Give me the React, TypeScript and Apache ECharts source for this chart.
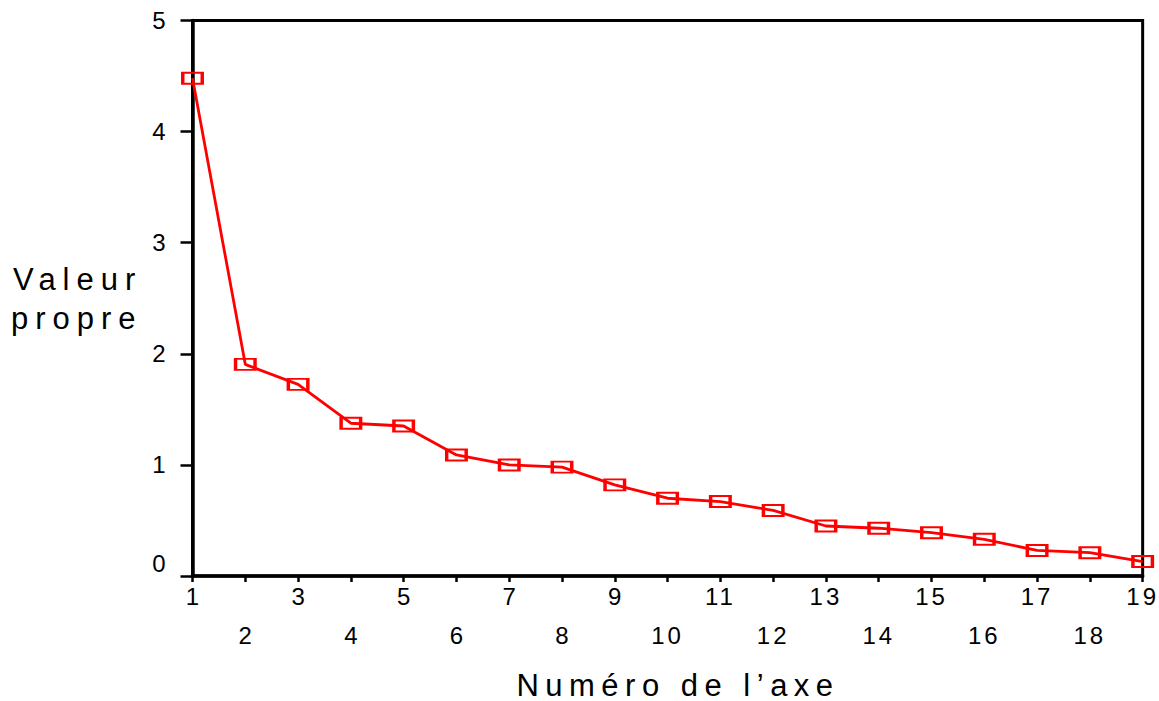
import React, { useEffect, useRef } from "react";
import * as echarts from "echarts";

const axisNumbers = ["1", "2", "3", "4", "5", "6", "7", "8", "9", "10", "11", "12", "13", "14", "15", "16", "17", "18", "19"];
const eigenvalues = [4.48, 1.905, 1.725, 1.375, 1.35, 1.09, 1.0, 0.98, 0.82, 0.7, 0.67, 0.59, 0.45, 0.43, 0.39, 0.33, 0.23, 0.21, 0.13];
const yMin = 0;
const yMax = 5;
const yStep = 1;
const xTitle = "Numéro de l’axe";
const yTitleLines = ["Valeur", "propre"];

const FONT = "'Liberation Sans', Arial, Helvetica, sans-serif";
const TICK_FONT = 24;

export default function App() {
  const ref = useRef<HTMLDivElement>(null);

  useEffect(() => {
    if (!ref.current) return;
    const chart = echarts.init(ref.current, null, { renderer: "svg" });
    const option: any = {
      animation: false,
      backgroundColor: "#ffffff",
      grid: {
        left: 192.5,
        right: 14,
        top: 20.5,
        bottom: 125,
        show: true,
        borderColor: "#000",
        borderWidth: 3,
        backgroundColor: "transparent",
      },
      xAxis: [
        {
          type: "category",
          data: axisNumbers,
          boundaryGap: false,
          position: "bottom",
          axisLine: { show: true, lineStyle: { color: "#000", width: 3.5 } },
          axisTick: { show: true, interval: 0, length: 6, lineStyle: { color: "#000", width: 2.5 } },
          axisLabel: {
            interval: (i: number) => i % 2 === 0,
            margin: 8,
            fontSize: TICK_FONT,
            fontFamily: FONT,
            color: "#000",
          },
          splitLine: { show: false },
        },
        {
          type: "category",
          data: axisNumbers,
          boundaryGap: false,
          position: "bottom",
          axisLine: { show: false },
          axisTick: { show: false },
          axisLabel: {
            interval: (i: number) => i % 2 === 1,
            margin: 47,
            fontSize: TICK_FONT,
            fontFamily: FONT,
            color: "#000",
          },
          splitLine: { show: false },
        },
      ],
      yAxis: {
        type: "value",
        min: yMin,
        max: yMax,
        interval: yStep,
        axisLine: { show: true, lineStyle: { color: "#000", width: 3.5 } },
        axisTick: { show: true, length: 12, lineStyle: { color: "#000", width: 2.5 } },
        axisLabel: {
          margin: 27,
          fontSize: TICK_FONT,
          fontFamily: FONT,
          color: "#000",
          formatter: (v: number) => (v === yMin ? `{z|${v}}` : `${v}`),
          rich: {
            z: { fontSize: TICK_FONT, fontFamily: FONT, color: "#000", padding: [0, 0, 26, 0] },
          },
        },
        splitLine: { show: false },
      },
      series: [
        {
          type: "line",
          data: eigenvalues,
          xAxisIndex: 0,
          symbol: "rect",
          symbolSize: [19.5, 11],
          showAllSymbol: true,
          clip: false,
          lineStyle: { color: "#ff0000", width: 2.8 },
          itemStyle: { color: "rgba(0,0,0,0)", borderColor: "#ff0000", borderWidth: 2.6 },
          emphasis: { disabled: true },
          z: 5,
        },
      ],
      graphic: [
        {
          type: "text",
          x: 13,
          y: 279,
          style: { text: yTitleLines[0], fontSize: 31, fontFamily: FONT, fill: "#000", align: "left", verticalAlign: "middle" },
        },
        {
          type: "text",
          x: 11,
          y: 318,
          style: { text: yTitleLines[1], fontSize: 31, fontFamily: FONT, fill: "#000", align: "left", verticalAlign: "middle" },
        },
        {
          type: "text",
          x: 678,
          y: 685,
          style: { text: xTitle, fontSize: 31, fontFamily: FONT, fill: "#000", align: "center", verticalAlign: "middle" },
        },
      ],
    };
    chart.setOption(option);

    const applySpacing = () => {
      const root = ref.current;
      if (!root) return;
      root.querySelectorAll("text").forEach((t) => {
        const s = t.textContent || "";
        let ls = 0;
        if (s === xTitle) ls = 6.5;
        else if (yTitleLines.includes(s)) ls = 7;
        else if (s.length > 1) ls = 3;
        if (ls) t.setAttribute("letter-spacing", String(ls));
      });
    };
    applySpacing();
    chart.on("finished", applySpacing);

    return () => {
      chart.dispose();
    };
  }, []);

  return (
    <div
      ref={ref}
      style={{ position: "absolute", left: 0, top: 0, width: 1159, height: 701 }}
    />
  );
}
